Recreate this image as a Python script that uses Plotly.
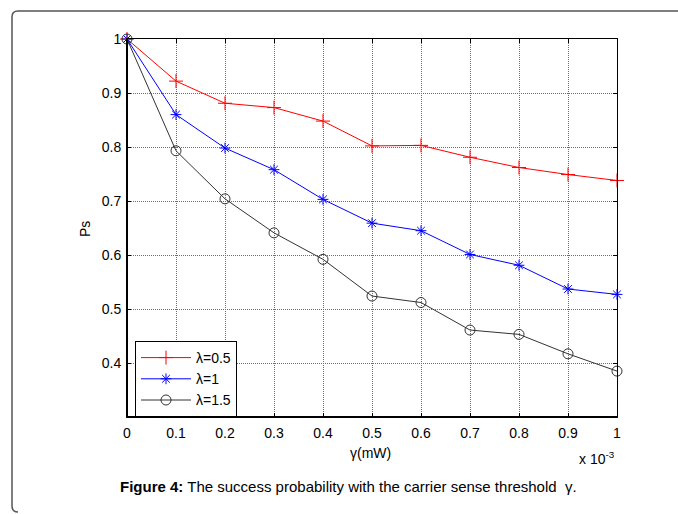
import plotly.graph_objects as go

# ---- data ----
gamma_mW = [0.0, 0.0001, 0.0002, 0.0003, 0.0004, 0.0005, 0.0006, 0.0007, 0.0008, 0.0009, 0.0010]
ps_lambda_05 = [1.0, 0.922, 0.881, 0.873, 0.848, 0.802, 0.803, 0.781, 0.762, 0.749, 0.738]
ps_lambda_1 = [1.0, 0.860, 0.798, 0.758, 0.703, 0.659, 0.645, 0.601, 0.581, 0.537, 0.527]
ps_lambda_15 = [1.0, 0.793, 0.704, 0.641, 0.592, 0.524, 0.512, 0.461, 0.453, 0.417, 0.385]
series_names = ["λ=0.5", "λ=1", "λ=1.5"]
x_tickvals = [0.0, 0.0001, 0.0002, 0.0003, 0.0004, 0.0005, 0.0006, 0.0007, 0.0008, 0.0009, 0.0010]
x_ticktext = ["0", "0.1", "0.2", "0.3", "0.4", "0.5", "0.6", "0.7", "0.8", "0.9", "1"]
y_tickvals = [0.4, 0.5, 0.6, 0.7, 0.8, 0.9, 1.0]
y_ticktext = ["0.4", "0.5", "0.6", "0.7", "0.8", "0.9", "1"]
caption_bold = "Figure 4:"
caption_rest = " The success probability with the carrier sense threshold  γ."

W, H = 678, 514
L, R, T, B = 127, 617, 39, 417  # plot area in pixels


def px(x):
    return (x - L) / (R - L)


def py(y):
    return (B - y) / (B - T)


FONT = "Liberation Sans, Arial, sans-serif"

fig = go.Figure()
styles = [
    dict(color="#ff0000", symbol="cross-thin-open", size=10),
    dict(color="#0000ff", symbol="asterisk-open", size=9),
    dict(color="#333333", symbol="circle-open", size=10),
]
for name, ys, st in zip(series_names, [ps_lambda_05, ps_lambda_1, ps_lambda_15], styles):
    fig.add_trace(go.Scatter(
        x=gamma_mW, y=ys, name=name, mode="lines+markers",
        line=dict(color=st["color"], width=1),
        marker=dict(symbol=st["symbol"], size=st["size"], color=st["color"],
                    line=dict(color=st["color"], width=1)),
        cliponaxis=False,
    ))

axis_common = dict(
    showline=True, linecolor="black", linewidth=1, mirror="ticks",
    ticks="inside", ticklen=4, tickcolor="black", tickwidth=1,
    showgrid=True, gridcolor="#6e6e6e", griddash="1px,1px", gridwidth=1,
    zeroline=False, tickfont=dict(family=FONT, size=14, color="black"),
)

fig.update_xaxes(range=[0, 0.001], tickvals=x_tickvals, ticktext=x_ticktext,
                 ticklabelstandoff=3, **axis_common)
fig.update_yaxes(range=[0.3, 1.0], tickvals=y_tickvals, ticktext=y_ticktext,
                 ticklabelstandoff=2, **axis_common)

shapes = [
    # thicker left and bottom axis lines
    dict(type="line", xref="paper", yref="paper", x0=0, x1=0, y0=0, y1=1,
         line=dict(color="black", width=2)),
    dict(type="line", xref="paper", yref="paper", x0=0, x1=1, y0=0, y1=0,
         line=dict(color="black", width=2)),
]
# outer rounded frame (top + left)
x0, xr, yt, yb, r = px(12), px(678), py(11), py(512), 6
rx = r / (R - L)
ry = r / (B - T)
path = (f"M {xr},{yt} L {x0 + rx},{yt} Q {x0},{yt} {x0},{yt - ry} "
        f"L {x0},{yb + ry} Q {x0},{yb} {x0 + rx},{yb}")
shapes.append(dict(type="path", xref="paper", yref="paper", path=path,
                   line=dict(color="#555555", width=1.5)))

annotations = [
    dict(text="γ(mW)", xref="paper", yref="paper", x=px(370), y=py(453),
         showarrow=False, xanchor="center", yanchor="middle",
         font=dict(family=FONT, size=14, color="black")),
    dict(text="Ps", xref="paper", yref="paper", x=px(85), y=py(229), textangle=-90,
         showarrow=False, xanchor="center", yanchor="middle",
         font=dict(family=FONT, size=14, color="black")),
    dict(text="x 10<sup>-3</sup>", xref="paper", yref="paper", x=px(577), y=py(458),
         showarrow=False, xanchor="left", yanchor="middle",
         font=dict(family=FONT, size=14, color="black")),
    dict(text=f"<b>{caption_bold}</b>{caption_rest}", xref="paper", yref="paper",
         x=px(348), y=py(486), showarrow=False, xanchor="center", yanchor="middle",
         font=dict(family=FONT, size=15, color="black")),
]

fig.update_layout(
    width=W, height=H,
    margin=dict(l=L, r=W - R, t=T, b=H - B, pad=0),
    paper_bgcolor="white", plot_bgcolor="white",
    font=dict(family=FONT, size=14, color="black"),
    shapes=shapes, annotations=annotations,
    legend=dict(x=px(135), y=py(341), xanchor="left", yanchor="top",
                bgcolor="white", bordercolor="black", borderwidth=1,
                font=dict(family=FONT, size=14, color="black"),
                tracegroupgap=0, itemwidth=50,
                entrywidth=48, entrywidthmode="pixels"),
    showlegend=True,
)

fig.write_html("out.html")
